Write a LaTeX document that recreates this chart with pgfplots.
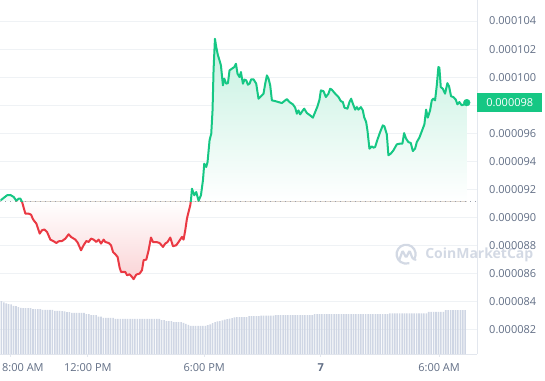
\documentclass[border=0pt]{standalone}
\usepackage{pgfplots}
\pgfplotsset{compat=1.18}
\usepgfplotslibrary{fillbetween}
\usepackage{pgfplotstable}
\usepackage{fontspec}
\setmainfont{Open Sans}
\definecolor{cmcgreen}{HTML}{16C784}
\definecolor{cmcred}{HTML}{EA3943}
\definecolor{ticktext}{HTML}{616E85}
\definecolor{gridcol}{HTML}{EFF2F5}
\definecolor{axiscol}{HTML}{E3E7EE}
\definecolor{volcol}{HTML}{CFD6E4}
\definecolor{dotcol}{HTML}{9AA0AD}
\definecolor{wmark}{HTML}{D3D9E4}

% price (x: position along the time axis, y: price in units of 1e-6)
\pgfplotstableread{
x y
0 91.22
6.7 91.59
10 91.61
13.3 91.47
16 91.20
18.3 91.35
20 91.35
21.7 91.11
25 90.28
28.3 90.28
30.7 90.21
32.3 89.93
33.3 89.81
36 89.57
39.3 88.86
41.7 89.10
44 89.15
46.7 88.97
50 88.43
53.3 88.31
56 88.19
58.3 88.31
61.7 88.33
65 88.50
68.3 88.81
70.7 88.62
75 88.43
77.3 88.22
80.7 87.67
83.3 88.03
86 88.33
88.3 88.26
90.7 88.50
93.3 88.43
96 88.26
98.3 88.43
100.7 88.15
103.3 88.43
105 88.26
108.3 88.19
110.7 88.03
112.7 87.55
115 87.39
117.3 87.19
119.3 86.44
120.7 86.13
125 86.13
126.7 85.89
129.3 85.96
131.7 85.77
133.3 85.61
136 85.94
139.3 86.01
141.7 86.25
143.3 86.96
146 87.01
148.3 87.67
150.7 88.58
152.7 88.26
156 88.26
159.3 88.19
162.7 87.91
165 88.15
167.3 88.26
170 88.58
172.7 87.96
176 88.03
178.3 88.26
181.7 88.62
183.3 88.43
185 89.10
186.7 89.93
188.3 90.40
190 90.88
190.7 91.23
191.7 92.06
194 91.59
196 91.82
198.3 91.20
200.7 91.59
202.7 92.66
204 93.84
206 93.60
207.3 93.96
209.3 95.50
211 95.98
212.3 97.64
213.3 100.49
214.7 102.74
216 102.15
217.7 101.56
219.3 101.20
220.7 100.84
222.7 99.42
224 99.90
226 99.54
227.7 99.58
229.3 100.49
231.7 100.61
234 100.72
235.7 100.96
237.3 100.25
239.3 100.01
240.7 100.37
242.7 99.54
244.3 99.83
246 99.78
247.7 99.47
249.3 99.54
251 99.85
253.3 99.85
256 99.54
258.3 98.47
260.7 98.64
263.3 98.83
265 99.54
266.7 100.13
268.3 99.90
270 99.42
271.7 98.35
275 98.30
278.3 98.23
281.7 98.16
285 98.35
286.7 98.44
289.3 98.23
292.7 98.07
295 97.83
296.7 97.40
298.3 97.64
300 97.35
302.7 97.64
304 97.76
306.7 97.45
310 97.28
312.7 97.12
315 97.52
317.3 97.92
319.3 98.40
320.7 99.06
323.3 99.01
325.7 98.59
328.3 98.83
330 99.18
331.7 99.11
335 98.83
338.3 98.59
340.7 98.30
342.7 98.23
344.3 97.83
347.3 97.76
349.3 98.23
351 98.47
352.7 98.12
355 97.69
356.7 97.87
358.3 97.69
360.7 97.87
362.7 97.64
364 97.16
366 96.81
367.3 96.22
369.3 94.91
371.7 95.08
373.3 94.98
375 95.03
377.3 95.55
380 96.09
382.7 96.57
384.3 96.50
386.7 95.93
388.3 94.44
390.7 94.56
393.3 94.79
396.7 95.22
400 95.27
402.3 95.27
404 96.02
406 95.62
408.3 95.38
410.7 95.31
412.7 94.74
415 94.91
416.7 95.38
419.3 95.70
422.7 96.34
424.3 96.64
426 97.69
427.7 97.12
430 97.64
431.7 98.35
433.3 98.47
435 98.35
436.7 99.42
438.3 100.72
439.3 100.68
440.7 99.30
442.7 99.18
445 98.83
447.3 99.58
449 99.35
451 98.64
453.3 98.59
455.7 98.40
457.3 98.07
459.3 98.23
461.7 98.00
464 98.07
466.7 98.19
}\price

% volume, one value per bar
\pgfplotstableread[row sep=\\]{
v \\ 53 \\ 51.7 \\ 50.7 \\ 50 \\ 49.7 \\ 48.3 \\ 48 \\ 47 \\ 46.3 \\ 46 \\ 46 \\ 46 \\ 46 \\
45 \\ 45 \\ 45 \\ 45 \\ 44.3 \\ 44.3 \\ 44.3 \\ 44.3 \\ 44.3 \\ 43.3 \\ 43.3 \\ 43.3 \\ 43 \\ 42.7 \\
42 \\ 42 \\ 41.3 \\ 41.3 \\ 41.3 \\ 41.3 \\ 41.3 \\ 41.3 \\ 40 \\ 40 \\ 39 \\ 39 \\ 39 \\ 37.5 \\ 37.5 \\
36.3 \\ 36.3 \\ 36.3 \\ 36.3 \\ 36.3 \\
35.2 \\ 35.2 \\ 35.2 \\ 35.2 \\ 35.2 \\ 35.2 \\ 35.2 \\ 35.2 \\ 35.2 \\ 35.2 \\ 35.2 \\ 35.2 \\ 35.2 \\ 35.2 \\ 35.2 \\ 35.2 \\ 35.2 \\ 35.2 \\ 35.2 \\
34 \\ 34 \\ 33 \\ 33 \\ 33 \\ 32 \\ 32 \\ 32 \\ 32 \\ 31.3 \\ 30.3 \\ 29.3 \\
28.3 \\ 28.3 \\ 28.3 \\ 28.3 \\ 28.3 \\ 28.3 \\ 28.3 \\
29 \\ 29.8 \\ 31.1 \\ 32 \\ 32.7 \\ 33 \\ 33.7 \\ 34.5 \\ 35 \\ 35.5 \\ 36 \\ 36.7 \\
37 \\ 37 \\ 37 \\ 37 \\ 37 \\ 38 \\ 38 \\ 38 \\ 38 \\ 38 \\ 38.5 \\ 38.5 \\ 38.5 \\ 38.5 \\ 38.5 \\ 38.5 \\
39 \\ 39 \\ 39 \\ 39 \\ 39 \\ 39 \\ 39 \\ 39 \\ 39 \\ 39 \\ 39 \\ 39 \\ 39 \\ 39 \\ 39 \\ 39 \\
40 \\ 40 \\ 40 \\ 40 \\ 40 \\ 40 \\ 40 \\ 40 \\ 40 \\ 40 \\ 40 \\ 40 \\ 40 \\ 40 \\ 40 \\ 40 \\ 40 \\ 40 \\ 40 \\ 40 \\ 40 \\ 40 \\ 40 \\ 40 \\ 40 \\ 40 \\ 40 \\ 40 \\ 40 \\ 40 \\ 40 \\
40.8 \\ 40.8 \\ 40.8 \\ 40.8 \\ 40.8 \\ 40.8 \\ 40.8 \\ 40.8 \\ 40.8 \\ 40.8 \\ 40.8 \\ 40.8 \\ 40.8 \\ 40.8 \\ 40.8 \\ 40.8 \\
42.2 \\ 42.2 \\ 42.2 \\ 42.2 \\ 42.2 \\ 42.2 \\ 42.2 \\
44 \\ 44 \\ 44 \\ 44 \\ 44 \\ 44 \\ 44 \\ 44 \\ 44 \\
}\volume

\pgfplotsset{
  overlay/.style={at={(0pt,#1)}, anchor=south west, scale only axis, width=477pt, xmin=0, xmax=477, hide axis},
}

\begin{document}
\begin{tikzpicture}
\path (0,0) rectangle (545pt,380pt);

% volume bars
\begin{axis}[at={(0pt,26pt)}, anchor=south west, scale only axis,
  width=477pt, height=354pt, xmin=-0.41, xmax=195.89, ymin=0, ymax=354,
  hide axis]
\addplot[ybar, bar width=1.6pt, fill=volcol, draw=none]
  table[x expr=\coordindex, y=v] {\volume};
\end{axis}

% watermark
\begin{scope}[x=1pt, y=-1pt, shift={(0pt,380pt)}]
  \draw[wmark, line width=2.2pt] (406,254) ++(35:9.5) arc[start angle=35, end angle=-290, radius=9.5];
  \draw[wmark, line width=2.2pt, rounded corners=1.2pt, line cap=round]
     (399.5,259) -- (402.5,250.5) -- (406,257.5) -- (409.5,250.5) -- (412.5,258.5) -- (415.5,259.5);
  \node[anchor=west, inner sep=0pt, text=wmark, font=\bfseries\fontsize{14}{16}\selectfont] at (425,255) {CoinMarketCap};
\end{scope}

% price axis: grid, ticks, area
\begin{axis}[at={(0pt,26pt)}, anchor=south west, scale only axis,
  width=477pt, height=354pt,
  xmin=0, xmax=477, ymin=80.27, ymax=105.474,
  axis x line*=bottom, axis y line*=right,
  axis line style={draw=axiscol, line width=0.8pt, -},
  ytick={82,84,86,88,90,92,94,96,98,100,102,104},
  yticklabels={0.000082,0.000084,0.000086,0.000088,0.000090,0.000092,0.000094,0.000096,{},0.000100,0.000102,0.000104},
  ymajorgrids, grid style={draw=gridcol, line width=0.8pt},
  ytick style={draw=none},
  xtick={87.5,204,320.6,439},
  xticklabels={12:00 PM,6:00 PM,{\bfseries 7},6:00 AM},
  extra x ticks={10}, extra x tick labels={8:00 AM},
  extra x tick style={xticklabel style={xshift=12.5pt}},
  xtick style={draw=axiscol, line width=0.8pt},
  tick align=outside, major tick length=3pt,
  tick label style={font=\fontsize{11}{13}\selectfont, text=ticktext},
  yticklabel style={anchor=west, inner sep=0pt, xshift=9pt},
  xticklabel style={anchor=north, inner sep=0pt, yshift=-6pt},
]
\addplot[name path=pr, draw=none] table {\price};
\addplot[name path=bl, draw=none] coordinates {(0,91.16) (466.7,91.16)};
\addplot fill between[of=pr and bl, split,
   every segment no 0/.style={fill=cmcgreen!6!white},
   every segment no 1/.style={top color=white, bottom color=cmcred!22!white},
   every segment no 2/.style={top color=cmcgreen!25!white, bottom color=white}];
\addplot[dotcol, line width=1.2pt, dash pattern=on 1.1pt off 3.9pt] coordinates {(0,91.16) (477,91.16)};
\end{axis}

% line below the open price (red), clipped by its axis box
\begin{axis}[overlay=26pt, height=152.95pt, ymin=80.27, ymax=91.16]
\addplot[cmcred, line width=2pt, line join=round] table {\price};
\end{axis}

% line above the open price (green), clipped by its axis box
\begin{axis}[overlay=178.95pt, height=201.05pt, ymin=91.16, ymax=105.474]
\addplot[cmcgreen, line width=2pt, line join=round] table {\price};
\addplot[only marks, mark=*, mark size=3.4pt, cmcgreen] coordinates {(466.7,98.19)};
\coordinate (lp) at (axis cs:477,98.19);
\end{axis}

\node[anchor=west, fill=cmcgreen, text=white, inner xsep=9pt, inner ysep=0pt,
      minimum height=18.7pt, font=\fontsize{11}{13}\selectfont] at (lp) {0.000098};
\end{tikzpicture}
\end{document}
